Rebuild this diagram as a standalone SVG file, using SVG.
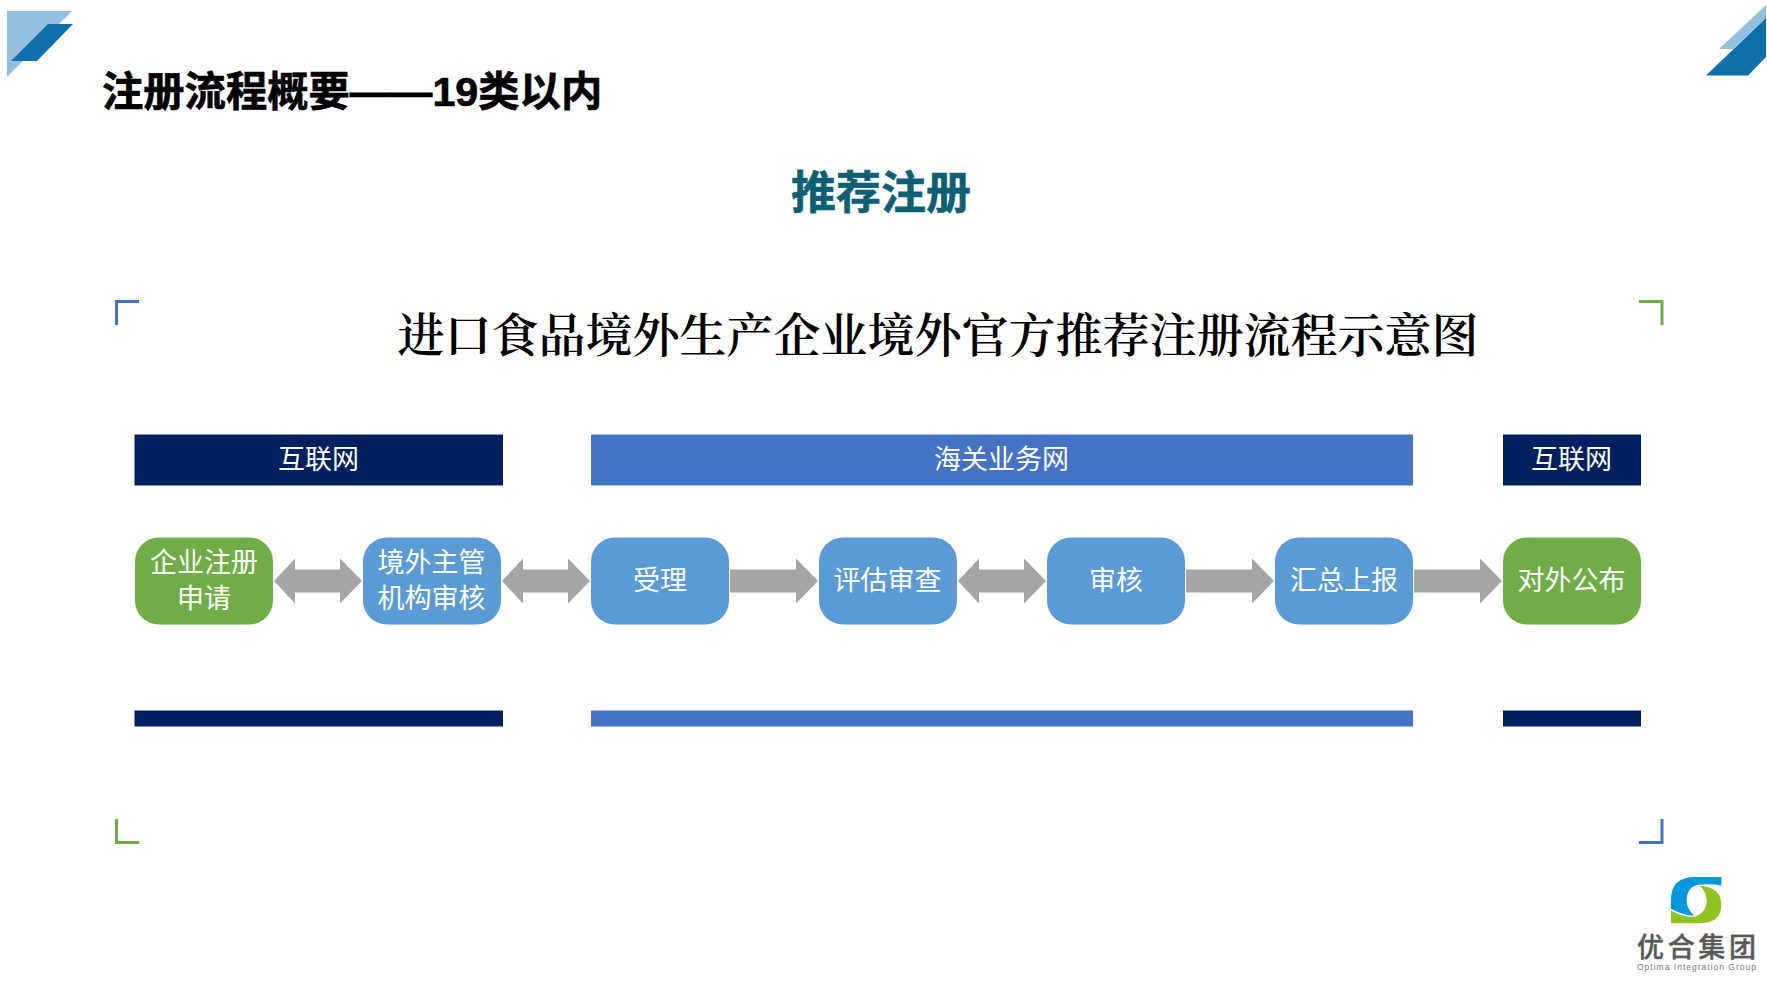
<svg xmlns="http://www.w3.org/2000/svg" width="1767" height="981" viewBox="0 0 1767 981">
<style>
text{font-family:"Noto Sans CJK SC","Noto Sans",sans-serif}
.lbl{font-size:27px;fill:#fff;text-anchor:middle}
.navy{fill:#002060}.mid{fill:#4472C4}.blue{fill:#5B9BD5}.green{fill:#70AD47}.arrow{fill:#A5A5A5}
.br{fill:none;stroke-width:3}
</style>
<rect width="1767" height="981" fill="#fff"/>
<g id="deco-top-left"><polygon points="7,11 72,11 7,77" fill="#94C0DF"/><polygon points="48,24 73,24 37,61 11,61" fill="#0F6FAB"/></g>
<g id="deco-top-right"><polygon points="1719,49 1766,5 1766,18 1733,49" fill="#94C0DF"/><polygon points="1706,75.500 1766,18 1766,57 1748,75.500" fill="#0F6FAB"/></g>
<text id="page-title" x="102" y="106" font-size="41.300" font-weight="700" fill="#000" stroke="#000" stroke-width=".7" style='font-family:"Liberation Sans","Noto Sans CJK SC",sans-serif'>注册流程概要——19类以内</text>
<text id="subtitle" x="881" y="209" font-size="45" font-weight="700" fill="#0E5F73" stroke="#0E5F73" stroke-width=".6" text-anchor="middle">推荐注册</text>
<text id="heading" x="938" y="352" font-size="47" font-weight="600" fill="#000" text-anchor="middle" style='font-family:"Noto Serif CJK SC","Liberation Serif","Noto Sans CJK SC",serif'>进口食品境外生产企业境外官方推荐注册流程示意图</text>
<g id="brackets">
<path class="br" stroke="#4472C4" d="M139 301.500H116.500V325"/>
<path class="br" stroke="#70AD47" d="M1639 301.500H1662V325"/>
<path class="br" stroke="#70AD47" d="M139 842.500H116.500V819"/>
<path class="br" stroke="#4472C4" d="M1639 842.500H1662V819"/>
</g>
<g id="band-internet-1"><rect class="navy" x="134.500" y="434.500" width="368.500" height="51"/><text class="lbl" x="318.500" y="469">互联网</text></g>
<g id="band-customs"><rect class="mid" x="591" y="434.500" width="822" height="51"/><text class="lbl" x="1001.500" y="469">海关业务网</text></g>
<g id="band-internet-2"><rect class="navy" x="1503" y="434.500" width="138" height="51"/><text class="lbl" x="1571.500" y="469">互联网</text></g>
<g id="connectors">
<path class="arrow" d="M274 581L295 558.500V569.500H340V558.500L362 581L340 603.500V592.500H295V603.500Z"/>
<path class="arrow" d="M502 581L523 558.500V569.500H568V558.500L590 581L568 603.500V592.500H523V603.500Z"/>
<path class="arrow" d="M730 569.500H796V558.500L818 581L796 603.500V592.500H730Z"/>
<path class="arrow" d="M958 581L979 558.500V569.500H1024V558.500L1046 581L1024 603.500V592.500H979V603.500Z"/>
<path class="arrow" d="M1186 569.500H1252V558.500L1274 581L1252 603.500V592.500H1186Z"/>
<path class="arrow" d="M1414 569.500H1480V558.500L1502 581L1480 603.500V592.500H1414Z"/>
</g>
<g id="node-apply"><rect class="green" x="135" y="537.500" width="138" height="87" rx="24"/><text class="lbl" x="204" y="572">企业注册</text><text class="lbl" x="204" y="608">申请</text></g>
<g id="node-authority"><rect class="blue" x="363" y="537.500" width="138" height="87" rx="24"/><text class="lbl" x="431.500" y="572">境外主管</text><text class="lbl" x="431.500" y="608">机构审核</text></g>
<g id="node-accept"><rect class="blue" x="591" y="537.500" width="138" height="87" rx="24"/><text class="lbl" x="660" y="590">受理</text></g>
<g id="node-evaluate"><rect class="blue" x="819" y="537.500" width="138" height="87" rx="24"/><text class="lbl" x="887.500" y="590">评估审查</text></g>
<g id="node-review"><rect class="blue" x="1047" y="537.500" width="138" height="87" rx="24"/><text class="lbl" x="1116" y="590">审核</text></g>
<g id="node-report"><rect class="blue" x="1275" y="537.500" width="138" height="87" rx="24"/><text class="lbl" x="1344" y="590">汇总上报</text></g>
<g id="node-publish"><rect class="green" x="1503" y="537.500" width="138" height="87" rx="24"/><text class="lbl" x="1571.500" y="590">对外公布</text></g>
<rect id="foot-1" class="navy" x="134.500" y="710.500" width="368.500" height="16"/>
<rect id="foot-2" class="mid" x="591" y="710.500" width="822" height="16"/>
<rect id="foot-3" class="navy" x="1503" y="710.500" width="138" height="16"/>
<g id="logo">
<g transform="translate(1600 840) scale(.3333)">
<path fill="#0098DC" d="M364 111H285Q213 111 213 180V206Q250 226 282 227Q258 205 260 178Q262 140 295 134Q335 130 364 137Z"/>
<path fill="#8FC31F" d="M298 137Q364 140 364 195Q364 250 295 250H213V212Q250 232 285 230Q322 215 320 180Q318 150 298 137Z"/>
</g>
<text x="1637" y="957" font-size="27" font-weight="500" fill="#595959" textLength="119" lengthAdjust="spacing" stroke="#595959" stroke-width=".4">优合集团</text>
<text x="1637" y="969.500" font-size="8.500" fill="#777" textLength="119" lengthAdjust="spacing" style='font-family:"Liberation Sans",sans-serif'>Optima Integration Group</text>
</g>
</svg>
